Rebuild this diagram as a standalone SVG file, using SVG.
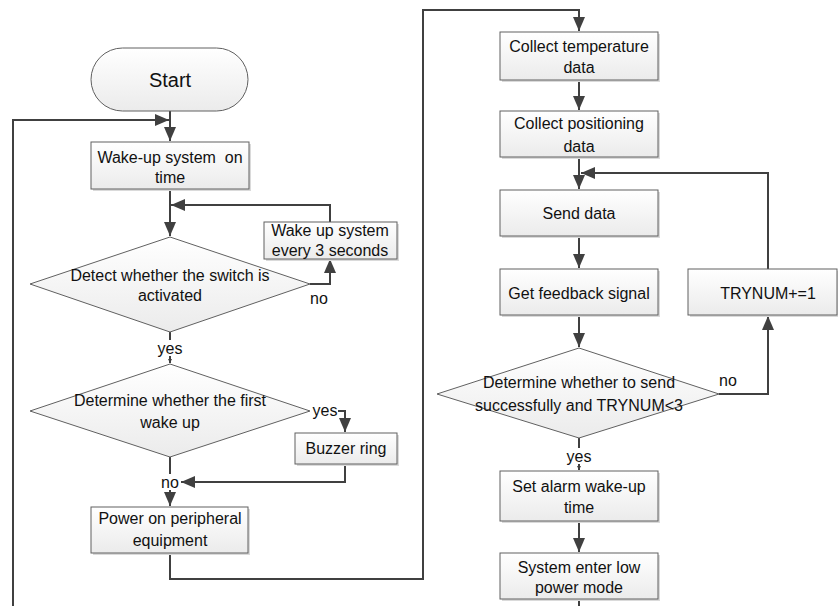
<svg xmlns="http://www.w3.org/2000/svg" width="838" height="606" viewBox="0 0 838 606">
<defs>
<linearGradient id="g" x1="0" y1="0" x2="0" y2="1">
<stop offset="0" stop-color="#ffffff"/>
<stop offset="1" stop-color="#ebebeb"/>
</linearGradient>
<marker id="ar" markerUnits="userSpaceOnUse" markerWidth="16" markerHeight="12" refX="14" refY="6" orient="auto">
<path d="M0,0 L14,6 L0,12 z" fill="#404040"/>
</marker>
<marker id="sm" markerUnits="userSpaceOnUse" markerWidth="6" markerHeight="6" refX="4" refY="2" orient="auto">
<path d="M0,0 L4,2 L0,4 z" fill="#404040"/>
</marker>
</defs>
<style>
.box{fill:url(#g);stroke:#606060;stroke-width:1}
.sh{fill:#dadada}
.c{fill:none;stroke:#404040;stroke-width:2}
text{font-family:"Liberation Sans",Arial,sans-serif;font-size:16px;fill:#111;text-anchor:middle;dominant-baseline:central}
.lb{fill:#fff;stroke:none}
</style>
<g id="connectors">
<path class="c" d="M170,111 V141" marker-end="url(#ar)"/>
<path class="c" d="M13,606 V120 H169" marker-end="url(#ar)"/>
<path class="c" d="M170,189 V236" marker-end="url(#ar)"/>
<path class="c" d="M330,222 V205 H171" marker-end="url(#ar)"/>
<path class="c" d="M310,284 H330 V259" marker-end="url(#ar)"/>
<path class="c" d="M170,332 V363" marker-end="url(#sm)"/>
<path class="c" d="M338,411 H345 V432" marker-end="url(#ar)"/>
<path class="c" d="M345,464 V482 H181" marker-end="url(#ar)"/>
<path class="c" d="M170,457 V506" marker-end="url(#ar)"/>
<path class="c" d="M170,553 V579 H423 V10 H579 V31" marker-end="url(#ar)"/>
<path class="c" d="M579,80 V110" marker-end="url(#ar)"/>
<path class="c" d="M579,157 V189" marker-end="url(#ar)"/>
<path class="c" d="M768,269 V173 H581" marker-end="url(#ar)"/>
<path class="c" d="M579,236 V268" marker-end="url(#ar)"/>
<path class="c" d="M579,315 V347" marker-end="url(#ar)"/>
<path class="c" d="M719,394 H768 V316" marker-end="url(#ar)"/>
<path class="c" d="M579,438 V470" marker-end="url(#sm)"/>
<path class="c" d="M579,521 V552" marker-end="url(#ar)"/>
<path class="c" d="M579,599 V606"/>
<rect class="lb" x="156" y="340" width="28" height="16"/>
<text x="170" y="348">yes</text>
<rect class="lb" x="160" y="474" width="20" height="16"/>
<text x="170" y="482">no</text>
<rect class="lb" x="565" y="448" width="28" height="16"/>
<text x="579" y="456">yes</text>
<text x="319" y="298">no</text>
<text x="325" y="410">yes</text>
<text x="728" y="380">no</text>
</g>
<g id="start">
<rect class="box" x="91" y="48" width="157" height="63" rx="31.5"/>
<text x="170" y="80" style="font-size:20px">Start</text>
</g>
<g id="wakeup">
<rect class="sh" x="93" y="144" width="158" height="47"/>
<rect class="box" x="91" y="142" width="158" height="47"/>
<text x="170" y="157">Wake-up system&#160; on</text>
<text x="170" y="177">time</text>
</g>
<g id="wake3">
<rect class="sh" x="266" y="224" width="133" height="37"/>
<rect class="box" x="264" y="222" width="133" height="37"/>
<text x="330" y="230">Wake up system</text>
<text x="330" y="250">every 3 seconds</text>
</g>
<g id="detect">
<polygon class="box" points="170,237 310,284 170,332 30,284"/>
<text x="170" y="275">Detect whether the switch is</text>
<text x="170" y="295">activated</text>
</g>
<g id="first">
<polygon class="box" points="170,364 310,411 170,457 30,411"/>
<text x="170" y="400">Determine whether the first</text>
<text x="170" y="422">wake up</text>
</g>
<g id="buzzer">
<rect class="sh" x="297" y="435" width="102" height="31"/>
<rect class="box" x="295" y="433" width="102" height="31"/>
<text x="346" y="448">Buzzer ring</text>
</g>
<g id="power">
<rect class="sh" x="93" y="509" width="157" height="46"/>
<rect class="box" x="91" y="507" width="157" height="46"/>
<text x="170" y="518">Power on peripheral</text>
<text x="170" y="540">equipment</text>
</g>
<g id="temp">
<rect class="sh" x="502" y="34" width="158" height="48"/>
<rect class="box" x="500" y="32" width="158" height="48"/>
<text x="579" y="46">Collect temperature</text>
<text x="579" y="67">data</text>
</g>
<g id="pos">
<rect class="sh" x="502" y="113" width="158" height="46"/>
<rect class="box" x="500" y="111" width="158" height="46"/>
<text x="579" y="123">Collect positioning</text>
<text x="579" y="146">data</text>
</g>
<g id="send">
<rect class="sh" x="502" y="192" width="158" height="46"/>
<rect class="box" x="500" y="190" width="158" height="46"/>
<text x="579" y="213">Send data</text>
</g>
<g id="feedback">
<rect class="sh" x="502" y="271" width="158" height="46"/>
<rect class="box" x="500" y="269" width="158" height="46"/>
<text x="579" y="293">Get feedback signal</text>
</g>
<g id="trynum">
<rect class="sh" x="690" y="271" width="148" height="46"/>
<rect class="box" x="688" y="269" width="149" height="46"/>
<text x="768" y="293">TRYNUM+=1</text>
</g>
<g id="check">
<polygon class="box" points="579,348 719,394 579,438 437,394"/>
<text x="579" y="382">Determine whether to send</text>
<text x="579" y="405">successfully and TRYNUM&lt;3</text>
</g>
<g id="alarm">
<rect class="sh" x="502" y="473" width="158" height="50"/>
<rect class="box" x="500" y="471" width="158" height="50"/>
<text x="579" y="486">Set alarm wake-up</text>
<text x="579" y="507">time</text>
</g>
<g id="lowpower">
<rect class="sh" x="502" y="555" width="158" height="46"/>
<rect class="box" x="500" y="553" width="158" height="46"/>
<text x="579" y="567">System enter low</text>
<text x="579" y="587">power mode</text>
</g>
</svg>
